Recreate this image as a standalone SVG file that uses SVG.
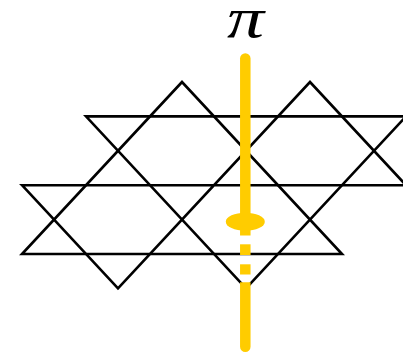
<svg xmlns="http://www.w3.org/2000/svg" width="403" height="355" viewBox="0 0 403 355">
  <style>
    .lat { fill: none; stroke: #000; stroke-width: 2.6; stroke-linejoin: miter; stroke-miterlimit: 10; }
    .flux { fill: #FFCC00; stroke: none; }
    .fluxline { stroke: #FFCC00; stroke-width: 10.5; fill: none; }
    .label { font-family: "Liberation Serif", "Times New Roman", serif; font-style: italic; font-size: 57px; fill: #000; }
  </style>
  <g id="lattice">
    <polygon class="lat" points="182,82 22,254 342,254"/>
    <polygon class="lat" points="86,116.4 406,116.4 246,288.4"/>
    <polygon class="lat" points="22,185.2 118,288.4 310,82 406,185.2"/>
  </g>
  <g id="flux-tube">
    <line class="fluxline" x1="245.3" y1="58.5" x2="245.3" y2="222" stroke-linecap="round"/>
    <rect class="flux" x="240.05" y="220" width="10.5" height="15.5"/>
    <ellipse class="flux" cx="245.3" cy="221.7" rx="19.5" ry="9"/>
    <rect class="flux" x="240.05" y="244.3" width="10.5" height="10.7"/>
    <rect class="flux" x="240.05" y="264.3" width="10.5" height="10.2"/>
    <path class="flux" d="M240.05,282.2 V346.8 A5.25,5.25 0 0 0 250.55,346.8 V282.2 Z"/>
  </g>
  <g id="label-pi">
    <text class="label" transform="translate(245.5,37) scale(1.3,1)" x="0" y="0" text-anchor="middle">π</text>
  </g>
</svg>
